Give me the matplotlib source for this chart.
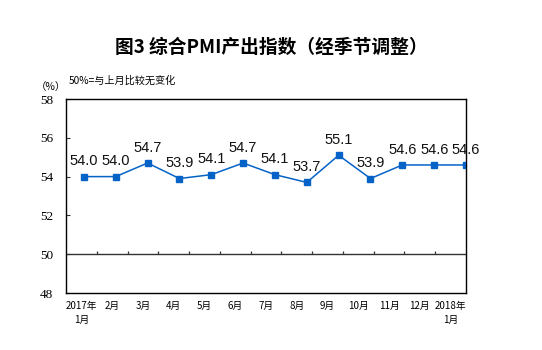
import matplotlib.pyplot as plt
import numpy as np

plt.rcParams['font.family'] = ['Noto Sans CJK SC', 'DejaVu Sans']

months = ['2017年\n1月', '2月', '3月', '4月', '5月', '6月', '7月',
          '8月', '9月', '10月', '11月', '12月', '2018年\n1月']
pmi = [54.0, 54.0, 54.7, 53.9, 54.1, 54.7, 54.1, 53.7, 55.1, 53.9, 54.6, 54.6, 54.6]
y_ticks = [48, 50, 52, 54, 56, 58]

line_color = '#0563C8'
axis_color = '#333333'

fig = plt.figure(figsize=(5.42, 3.5), dpi=100)
ax = fig.add_axes([66 / 542, 57 / 350, 400 / 542, 194 / 350])

x = np.arange(len(pmi))
ax.plot(x, pmi, color=line_color, lw=1.1, marker='s', ms=4.2, zorder=3)
for xi, v in zip(x, pmi):
    ax.annotate(f'{v:.1f}', (xi, v), xytext=(0, 11), textcoords='offset points',
                ha='center', va='center', fontsize=10.5, family='Liberation Sans',
                color='#111111')

ax.set_xlim(-0.5625, 12)
ax.set_ylim(48, 58)
ax.set_xticks([])
ax.set_yticks(y_ticks)
ax.tick_params(axis='y', direction='in', length=3, width=0.8, color=axis_color,
               labelsize=9.5, pad=9)
for lab in ax.get_yticklabels():
    lab.set_family('Liberation Serif')
ax.axhline(50, color=axis_color, lw=1.0, zorder=2)
for s in ax.spines.values():
    s.set_color(axis_color)
    s.set_linewidth(1.0)

# month labels sit in 13 equal slots across the axis
axl = ax.twiny()
axl.set_xlim(0, len(months))
axl.xaxis.set_ticks_position('bottom')
axl.set_xticks(np.arange(len(months)) + 0.5)
axl.set_xticklabels(months, fontsize=7, linespacing=1.5, va='top')
axl.tick_params(axis='x', length=0, pad=6)
axl.vlines(np.arange(1, len(months)), 50, 50.18, color=axis_color, lw=0.9)

fig.text(0.5, 1 - 47 / 350, '图3 综合PMI产出指数（经季节调整）', ha='center', va='center',
         fontsize=13.5, fontweight='bold')
fig.text(36 / 542, 1 - 87 / 350, '（%）', ha='left', va='center', fontsize=7.5)
fig.text(69 / 542, 1 - 81 / 350, '50%=与上月比较无变化', ha='left', va='center', fontsize=7.3)

fig.savefig('out.png', dpi=100)
